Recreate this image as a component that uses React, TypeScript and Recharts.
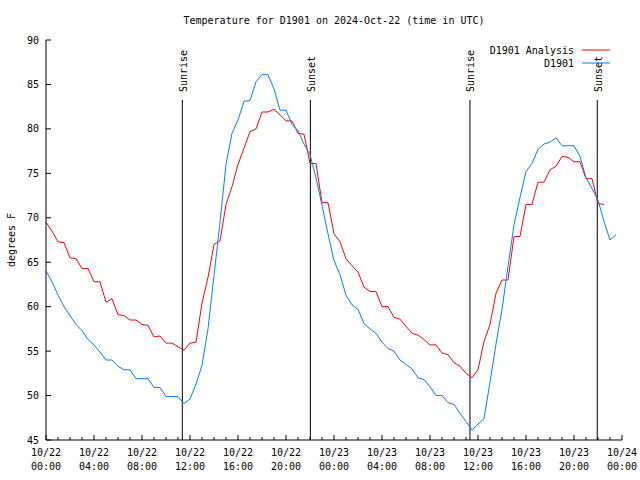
import React from 'react';
import { LineChart, Line, XAxis, YAxis, ReferenceLine, Legend } from 'recharts';

// hours since 10/22 00:00 UTC, sampled every half hour
const STEP_HOURS = 0.5;

// D1901 Analysis (red), deg F, from 00:00 to 46:30
const analysisTemps = [
  69.5, 68.5, 67.3, 67.2, 65.5, 65.4, 64.3, 64.3, 62.8, 62.8,
  60.5, 60.9, 59.1, 59.0, 58.5, 58.5, 58.0, 57.9, 56.6, 56.7,
  55.9, 55.9, 55.5, 55.1, 55.9, 56.0, 60.4, 63.3, 67.0, 67.4,
  71.5, 73.5, 76.0, 77.8, 79.7, 80.0, 81.9, 81.9, 82.2, 81.6,
  80.9, 80.9, 79.5, 79.4, 76.1, 76.1, 71.7, 71.7, 68.2, 67.3,
  65.4, 64.6, 63.9, 62.2, 61.7, 61.7, 60.0, 60.0, 58.8, 58.6,
  57.8, 57.0, 56.8, 56.3, 55.7, 55.7, 54.8, 54.6, 53.7, 53.3,
  52.5, 52.0, 52.9, 56.1, 58.0, 61.5, 63.0, 63.0, 67.9, 67.9,
  71.5, 71.5, 74.0, 74.0, 75.4, 75.8, 76.9, 76.8, 76.3, 76.3,
  74.4, 74.4, 71.6, 71.5,
];

// D1901 observed (blue), deg F, from 00:00 to 47:30
const observedTemps = [
  64.0, 62.8, 61.3, 60.0, 59.0, 58.0, 57.3, 56.3, 55.7, 54.9,
  54.0, 54.0, 53.3, 52.9, 52.9, 51.9, 51.9, 51.9, 50.9, 50.9,
  49.9, 49.9, 49.9, 49.1, 49.6, 51.3, 53.4, 57.5, 63.5, 69.5,
  76.0, 79.5, 81.0, 83.1, 83.2, 85.3, 86.1, 86.1, 84.5, 82.1,
  82.1, 80.5, 79.8, 78.3, 77.1, 74.5, 71.4, 68.2, 65.2, 63.6,
  61.3, 60.2, 59.7, 58.1, 57.5, 57.0, 56.0, 55.3, 55.0, 54.0,
  53.5, 53.0, 52.0, 51.8, 51.0, 50.0, 50.0, 49.2, 49.0, 48.0,
  47.1, 46.1, 46.8, 47.4, 51.5, 55.8, 59.7, 64.5, 69.2, 72.3,
  75.2, 76.1, 77.7, 78.3, 78.5, 79.0, 78.1, 78.1, 78.1, 76.9,
  74.5, 73.3, 72.0, 69.6, 67.5, 68.1,
];

const seriesNames = ['D1901 Analysis', 'D1901'];

const hourTicks = Array.from({ length: 49 }, (_, i) => i);
const majorHours = [0, 4, 8, 12, 16, 20, 24, 28, 32, 36, 40, 44, 48];
const tickDates = ['10/22', '10/22', '10/22', '10/22', '10/22', '10/22', '10/23', '10/23', '10/23', '10/23', '10/23', '10/23', '10/24'];
const tickTimes = ['00:00', '04:00', '08:00', '12:00', '16:00', '20:00', '00:00', '04:00', '08:00', '12:00', '16:00', '20:00', '00:00'];
const yTicks = [45, 50, 55, 60, 65, 70, 75, 80, 85, 90];

const sunHours = [11.36, 22.03, 35.33, 45.94];
const sunNames = ['Sunrise', 'Sunset', 'Sunrise', 'Sunset'];
const SUN_LINE_TOP = 83.25;

const FONT = '"DejaVu Sans Mono", monospace';

const data = observedTemps.map((v, i) => ({
  t: i * STEP_HOURS,
  analysis: i < analysisTemps.length ? analysisTemps[i] : null,
  obs: v,
}));

const BottomTick = (props: any) => {
  const { x, y, payload } = props;
  const idx = majorHours.indexOf(payload.value);
  const major = idx >= 0;
  return (
    <g>
      <line x1={x} x2={x} y1={y} y2={y - (major ? 5 : 3)} stroke="#000" />
      {major && (
        <text x={x} textAnchor="middle" fontFamily={FONT} fontSize={10} fill="#000">
          <tspan x={x} y={y + 16}>{tickDates[idx]}</tspan>
          <tspan x={x} y={y + 30}>{tickTimes[idx]}</tspan>
        </text>
      )}
    </g>
  );
};

const TopTick = (props: any) => {
  const { x, y, payload } = props;
  const major = majorHours.includes(payload.value);
  return <line x1={x} x2={x} y1={y} y2={y + (major ? 5 : 3)} stroke="#000" />;
};

const LeftTick = (props: any) => {
  const { x, y, payload } = props;
  return (
    <g>
      <line x1={x} x2={x + 5} y1={y} y2={y} stroke="#000" />
      <text x={x - 7} y={y} dy={3.5} textAnchor="end" fontFamily={FONT} fontSize={10} fill="#000">
        {payload.value}
      </text>
    </g>
  );
};

const RightTick = (props: any) => {
  const { x, y } = props;
  return <line x1={x} x2={x - 5} y1={y} y2={y} stroke="#000" />;
};

const SunLabel = (props: any) => {
  const { viewBox, value } = props;
  const x = viewBox.x + 1;
  const y = viewBox.y - 8;
  return (
    <text
      transform={`translate(${x},${y}) rotate(-90)`}
      textAnchor="start"
      dy={3.5}
      fontFamily={FONT}
      fontSize={10}
      fill="#000"
    >
      {value}
    </text>
  );
};

const YLabel = () => (
  <text
    transform="translate(11,240) rotate(-90)"
    textAnchor="middle"
    dy={3.5}
    fontFamily={FONT}
    fontSize={10}
    fill="#000"
  >
    degrees F
  </text>
);

const KeyBox = (props: any) => {
  // keep the plotting order, the legend sorts by name otherwise
  const items = [...(props.payload || [])].sort(
    (a: any, b: any) => seriesNames.indexOf(a.value) - seriesNames.indexOf(b.value)
  );
  return (
    <svg width={180} height={28} style={{ display: 'block' }}>
      {items.map((it: any, i: number) => (
        <g key={i}>
          <text x={134} y={8 + i * 13} dy={3.5} textAnchor="end" fontFamily={FONT} fontSize={10} fill="#000">
            {it.value}
          </text>
          <line x1={142} x2={170} y1={8 + i * 13} y2={8 + i * 13} stroke={it.color} />
        </g>
      ))}
    </svg>
  );
};

export default function App() {
  return (
    <div style={{ position: 'absolute', left: 0, top: 0, width: 640, height: 480, background: '#fff' }}>
      <div
        style={{
          position: 'absolute',
          left: 0,
          top: 14,
          width: 668,
          textAlign: 'center',
          fontFamily: FONT,
          fontSize: 10,
          lineHeight: '13px',
          color: '#000',
        }}
      >
        Temperature for D1901 on 2024-Oct-22 (time in UTC)
      </div>
      <LineChart width={640} height={480} data={data} margin={{ top: 40, right: 18, bottom: 0, left: 0 }}>
        <XAxis
          dataKey="t"
          type="number"
          domain={[0, 48]}
          ticks={hourTicks}
          interval={0}
          height={40}
          tickSize={0}
          tickMargin={0}
          tickLine={false}
          axisLine={{ stroke: '#000' }}
          tick={<BottomTick />}
        />
        <XAxis
          xAxisId="top"
          orientation="top"
          dataKey="t"
          type="number"
          domain={[0, 48]}
          ticks={hourTicks}
          interval={0}
          height={0}
          tickSize={0}
          tickMargin={0}
          tickLine={false}
          axisLine={{ stroke: '#000' }}
          tick={<TopTick />}
        />
        <YAxis
          type="number"
          domain={[45, 90]}
          ticks={yTicks}
          interval={0}
          width={46}
          tickSize={0}
          tickMargin={0}
          tickLine={false}
          axisLine={{ stroke: '#000' }}
          tick={<LeftTick />}
          label={<YLabel />}
        />
        <YAxis
          yAxisId="right"
          orientation="right"
          type="number"
          domain={[45, 90]}
          ticks={yTicks}
          interval={0}
          width={0}
          tickSize={0}
          tickMargin={0}
          tickLine={false}
          axisLine={{ stroke: '#000' }}
          tick={<RightTick />}
        />
        {sunHours.map((h, i) => (
          <ReferenceLine
            key={i}
            segment={[{ x: h, y: 45 }, { x: h, y: SUN_LINE_TOP }]}
            stroke="#000"
            strokeWidth={1}
            label={<SunLabel value={sunNames[i]} />}
          />
        ))}
        <Legend
          layout="vertical"
          align="center"
          verticalAlign="middle"
          wrapperStyle={{ top: 42, left: 440, width: 180, height: 28 }}
          content={<KeyBox />}
        />
        <Line
          type="linear"
          dataKey="analysis"
          name={seriesNames[0]}
          stroke="#ff0000"
          strokeWidth={1}
          dot={false}
          connectNulls={false}
          isAnimationActive={false}
        />
        <Line
          type="linear"
          dataKey="obs"
          name={seriesNames[1]}
          stroke="#0080ff"
          strokeWidth={1}
          dot={false}
          isAnimationActive={false}
        />
      </LineChart>
    </div>
  );
}
